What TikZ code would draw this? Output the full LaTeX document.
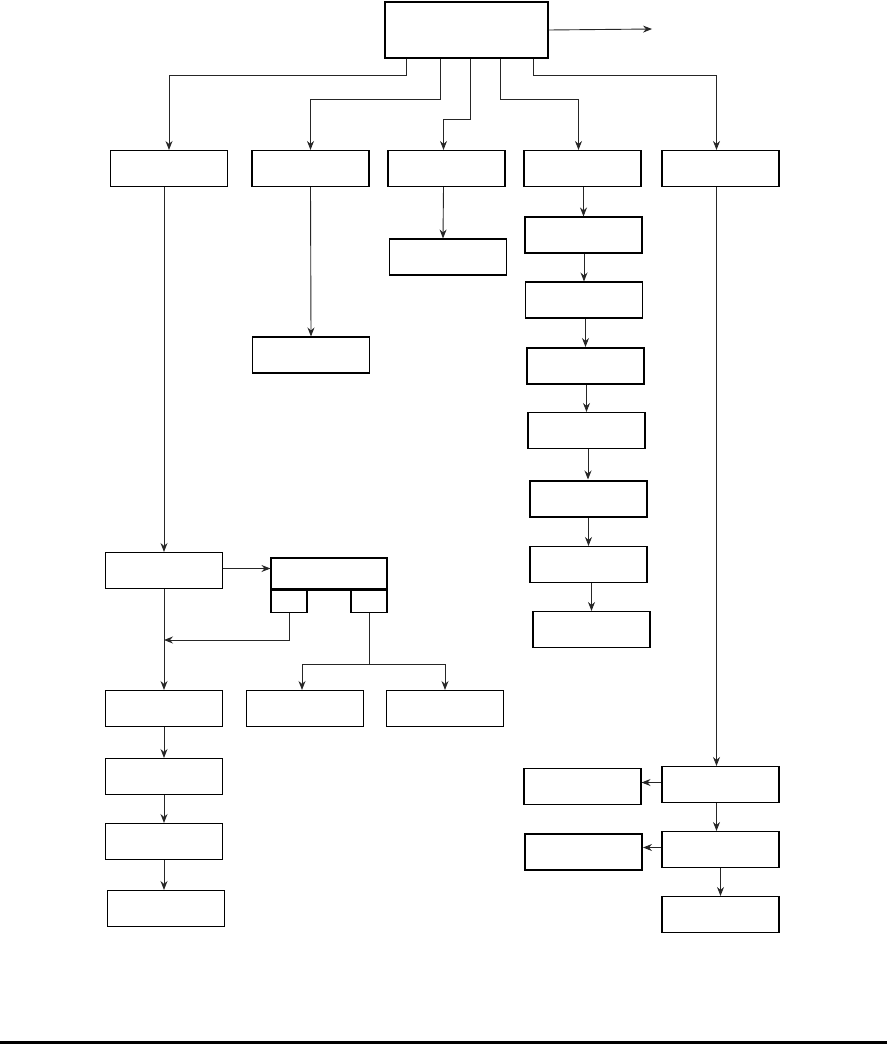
\documentclass[tikz,border=0pt]{standalone}
\usetikzlibrary{calc,arrows.meta}

\begin{document}
\begin{tikzpicture}[x=1pt,y=-1pt,
  box/.style={draw,line width=1.1pt,minimum width=117pt,minimum height=36pt,inner sep=0pt},
  thickbox/.style={box,line width=2pt},
  arr/.style={-{Stealth[length=9pt,width=7pt,inset=3pt]},line width=0.9pt,black!85},
  ln/.style={line width=0.9pt,black!85}]

\useasboundingbox (0,0) rectangle (887,1044);

% top box
\node[box,minimum width=163pt,minimum height=56pt] (top) at (466.5,30) {};
\coordinate (out) at (652,29);
\draw[arr] (top.east) -- (out);

% first row
\node[box] (A) at (169,168.5) {};
\node[box] (B) at (310.5,168.5) {};
\node[box] (C) at (446.5,168.5) {};
\node[box] (D) at (582.5,168.5) {};
\node[box] (E) at (720.5,168.5) {};

\draw[arr] ($(top.south)+(-60.5,0)$) -- ++(0,17) -| (A.north);
\draw[arr] ($(top.south)+(-26.5,0)$) -- ++(0,41) -| (B.north);
\draw[arr] ($(top.south)+(3.5,0)$) -- ++(0,61) -| ([xshift=-3pt]C.north);
\draw[arr] ($(top.south)+(33.5,0)$) -- ++(0,41) -| ([xshift=-4pt]D.north);
\draw[arr] ($(top.south)+(66.5,0)$) -- ++(0,17) -| ([xshift=-4pt]E.north);

% short branches
\node[box] (C2) at (448,257) {};
\node[box] (B2) at (311,355) {};
\draw[arr] ([xshift=-3pt]C.south) -- ([xshift=-5pt]C2.north);
\draw[arr] (B.south) -- (B2.north);

% D chain
\node[box] (D2) at (583.5,235) {};
\node[box] (D3) at (584,300) {};
\node[thickbox] (D4) at (585.5,366) {};
\node[box] (D5) at (586.5,430.5) {};
\node[thickbox] (D6) at (588,498.5) {};
\node[box] (D7) at (588.5,564.5) {};
\node[box] (D8) at (591.5,629.5) {};
\foreach \a/\b in {D/D2,D2/D3,D3/D4,D4/D5,D5/D6,D6/D7,D7/D8}
  \draw[arr] (\a.south -| \b.north) -- (\b.north);

% A chain
\node[box] (A2) at (164,570.5) {};
\node[box] (A3) at (164,708.5) {};
\node[box] (A4) at (164,776.5) {};
\node[box] (A5) at (164,841.5) {};
\node[box] (A6) at (166,908.5) {};
\draw[arr] (A.south -| A2.north) -- (A2.north);
\foreach \a/\b in {A2/A3,A3/A4,A4/A5,A5/A6}
  \draw[arr] (\a.south) -- (\a.south |- \b.north);

% split box
\node[box,minimum width=116pt,minimum height=31pt] (sp) at (329,573.5) {};
\draw[line width=2pt] (sp.south west) -- (sp.south east);
\node[box,minimum width=36pt,minimum height=22pt,anchor=north west] (sl) at (sp.south west) {};
\node[box,minimum width=36pt,minimum height=22pt,anchor=north east] (sr) at (sp.south east) {};
\draw[arr] ([yshift=2pt]A2.east) -- ([yshift=2pt]A2.east -| sp.west);
\coordinate (m) at (164,640);
\draw[arr] (sl.south) |- (m);

\node[box] (F1) at (305,708.5) {};
\node[box] (F2) at (445,708.5) {};
\draw[ln] (sr.south) -- ++(0,52) coordinate (j);
\draw[arr] (j) -| ([xshift=-3pt]F1.north);
\draw[arr] (j) -| (F2.north);

% E chain
\node[box] (E2) at (720.5,784.5) {};
\node[box] (E3) at (720.5,849.5) {};
\node[box] (E4) at (720.5,914.5) {};
\node[box] (L1) at (582.5,786.5) {};
\node[thickbox] (L2) at (583.5,851.5) {};
\draw[arr] ([xshift=-4pt]E.south) -- ([xshift=-4pt]E2.north);
\draw[arr] ([xshift=-4pt]E2.south) -- ([xshift=-4pt]E3.north);
\draw[arr] (E3.south) -- (E4.north);
\draw[arr] ([yshift=2pt]E2.west) -- ([yshift=2pt]E2.west -| L1.east);
\draw[arr] ([yshift=2pt]E3.west) -- ([yshift=2pt]E3.west -| L2.east);

% bottom rule
\draw[line width=3pt] (0,1042) -- (887,1042);

\end{tikzpicture}
\end{document}
